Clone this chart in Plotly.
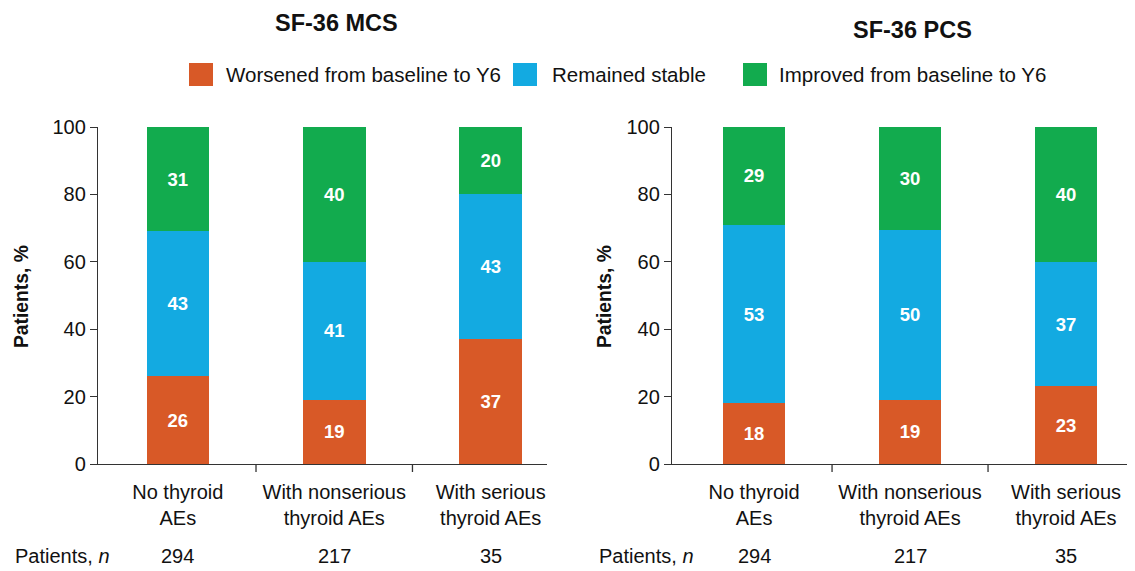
import plotly.graph_objects as go

# ---------------- data ----------------
categories = ["No thyroid<br>AEs", "With nonserious<br>thyroid AEs", "With serious<br>thyroid AEs"]
patients_n = [294, 217, 35]
series_names = ["Worsened from baseline to Y6", "Remained stable", "Improved from baseline to Y6"]
# bar heights (%)
mcs_worsened = [26, 19, 37]
mcs_stable = [43, 41, 43]
mcs_improved = [31, 40, 20]
pcs_worsened = [18, 19, 23]
pcs_stable = [53, 50.5, 37]
pcs_improved = [29, 30.5, 40]
# printed (rounded) labels
mcs_labels = [[26, 19, 37], [43, 41, 43], [31, 40, 20]]
pcs_labels = [[18, 19, 23], [53, 50, 37], [29, 30, 40]]
panel_titles = ["SF-36 MCS", "SF-36 PCS"]
y_ticks = [0, 20, 40, 60, 80, 100]
y_title = "Patients, %"
n_label = "Patients, <i>n</i>"

# ---------------- style ----------------
PAGE_OFF = 8                      # default page body margin
W, H = 1135 - PAGE_OFF, 571 - PAGE_OFF
FONT = "Arial, Liberation Sans, sans-serif"
colors = ["#D85927", "#13AAE1", "#12AB4E"]
AXIS_COLOR = "#333333"
TEXT_COLOR = "#111111"


def px_x(p):
    return (p - PAGE_OFF) / W


def px_y(p):
    return 1 - (p - PAGE_OFF) / H


x_idx = list(range(len(categories)))
panels = [
    ("x", "y", [mcs_worsened, mcs_stable, mcs_improved], mcs_labels),
    ("x2", "y2", [pcs_worsened, pcs_stable, pcs_improved], pcs_labels),
]

fig = go.Figure()
for xa, ya, series, labels in panels:
    for name, vals, labs, col in zip(series_names, series, labels, colors):
        fig.add_trace(go.Bar(
            x=x_idx, y=vals, name=name, xaxis=xa, yaxis=ya,
            marker=dict(color=col, line=dict(width=0)),
            width=0.4,
            text=[str(v) for v in labs],
            textposition="inside", insidetextanchor="middle",
            textfont=dict(family=FONT, size=18.5, color="white", weight="bold"),
            constraintext="none",
            showlegend=False, hoverinfo="skip",
        ))

ydom = [px_y(464), px_y(127)]
common_x = dict(
    type="linear", tickvals=x_idx, ticktext=categories,
    showline=True, linecolor=AXIS_COLOR, linewidth=1.3,
    ticks="", showgrid=False, zeroline=False, automargin=False,
    ticklabelstandoff=10,
    tickfont=dict(family=FONT, size=20, color=TEXT_COLOR),
)
common_y = dict(
    range=[0, 100], tickvals=y_ticks,
    showline=True, linecolor=AXIS_COLOR, linewidth=1.3,
    ticks="outside", ticklen=7, tickcolor=AXIS_COLOR, tickwidth=1.3,
    showgrid=False, zeroline=False, automargin=False,
    tickfont=dict(family=FONT, size=20, color=TEXT_COLOR),
)

fig.update_layout(
    width=W, height=H,
    margin=dict(l=0, r=0, t=0, b=0),
    paper_bgcolor="white", plot_bgcolor="white",
    barmode="stack",
    font=dict(family=FONT, color=TEXT_COLOR),
    xaxis=dict(common_x, domain=[px_x(98), px_x(547)], range=[-0.51, 2.36], anchor="y"),
    yaxis=dict(common_y, domain=ydom, anchor="x"),
    xaxis2=dict(common_x, domain=[px_x(672), px_x(1130)], range=[-0.526, 2.41], anchor="y2"),
    yaxis2=dict(common_y, domain=ydom, anchor="x2"),
)

# category-boundary tick marks on x axes
shapes = []
for xa in ["x", "x2"]:
    for b in [0.5, 1.5]:
        shapes.append(dict(type="line", xref=xa, yref="paper", x0=b, x1=b,
                           y0=px_y(464), y1=px_y(472),
                           line=dict(color=AXIS_COLOR, width=1.3)))

# legend (manual, large squares)
legend_items = [(189, 224), (513, 550), (743, 777)]
annotations = []
for (sq_x, tx_x), name, col in zip(legend_items, series_names, colors):
    shapes.append(dict(type="rect", xref="paper", yref="paper",
                       x0=px_x(sq_x), x1=px_x(sq_x + 24), y0=px_y(86), y1=px_y(63),
                       fillcolor=col, line=dict(width=0)))
    annotations.append(dict(text=name, xref="paper", yref="paper", x=px_x(tx_x), y=px_y(75),
                            xanchor="left", yanchor="middle", showarrow=False,
                            font=dict(family=FONT, size=20.5, color=TEXT_COLOR)))

# panel titles
for title, cx, cy in [(panel_titles[0], 336, 23), (panel_titles[1], 912, 30)]:
    annotations.append(dict(text="<b>" + title + "</b>", xref="paper", yref="paper",
                            x=px_x(cx), y=px_y(cy), xanchor="center", yanchor="middle",
                            showarrow=False, font=dict(family=FONT, size=23.5, color=TEXT_COLOR)))

# y-axis titles
for cx in [21, 604]:
    annotations.append(dict(text="<b>" + y_title + "</b>", xref="paper", yref="paper",
                            x=px_x(cx), y=px_y(297), xanchor="center", yanchor="middle",
                            textangle=-90, showarrow=False,
                            font=dict(family=FONT, size=19.3, color=TEXT_COLOR)))

# Patients, n row
N_ROW_Y = 556
for lx in [13, 597]:
    annotations.append(dict(text=n_label, xref="paper", yref="paper", x=px_x(lx), y=px_y(N_ROW_Y),
                            xanchor="left", yanchor="middle", showarrow=False,
                            font=dict(family=FONT, size=20, color=TEXT_COLOR)))
for xa in ["x", "x2"]:
    for i, n in zip(x_idx, patients_n):
        annotations.append(dict(text=str(n), xref=xa, yref="paper", x=i, y=px_y(N_ROW_Y),
                                xanchor="center", yanchor="middle", showarrow=False,
                                font=dict(family=FONT, size=20, color=TEXT_COLOR)))

fig.update_layout(shapes=shapes, annotations=annotations)
fig.write_html("out.html")
